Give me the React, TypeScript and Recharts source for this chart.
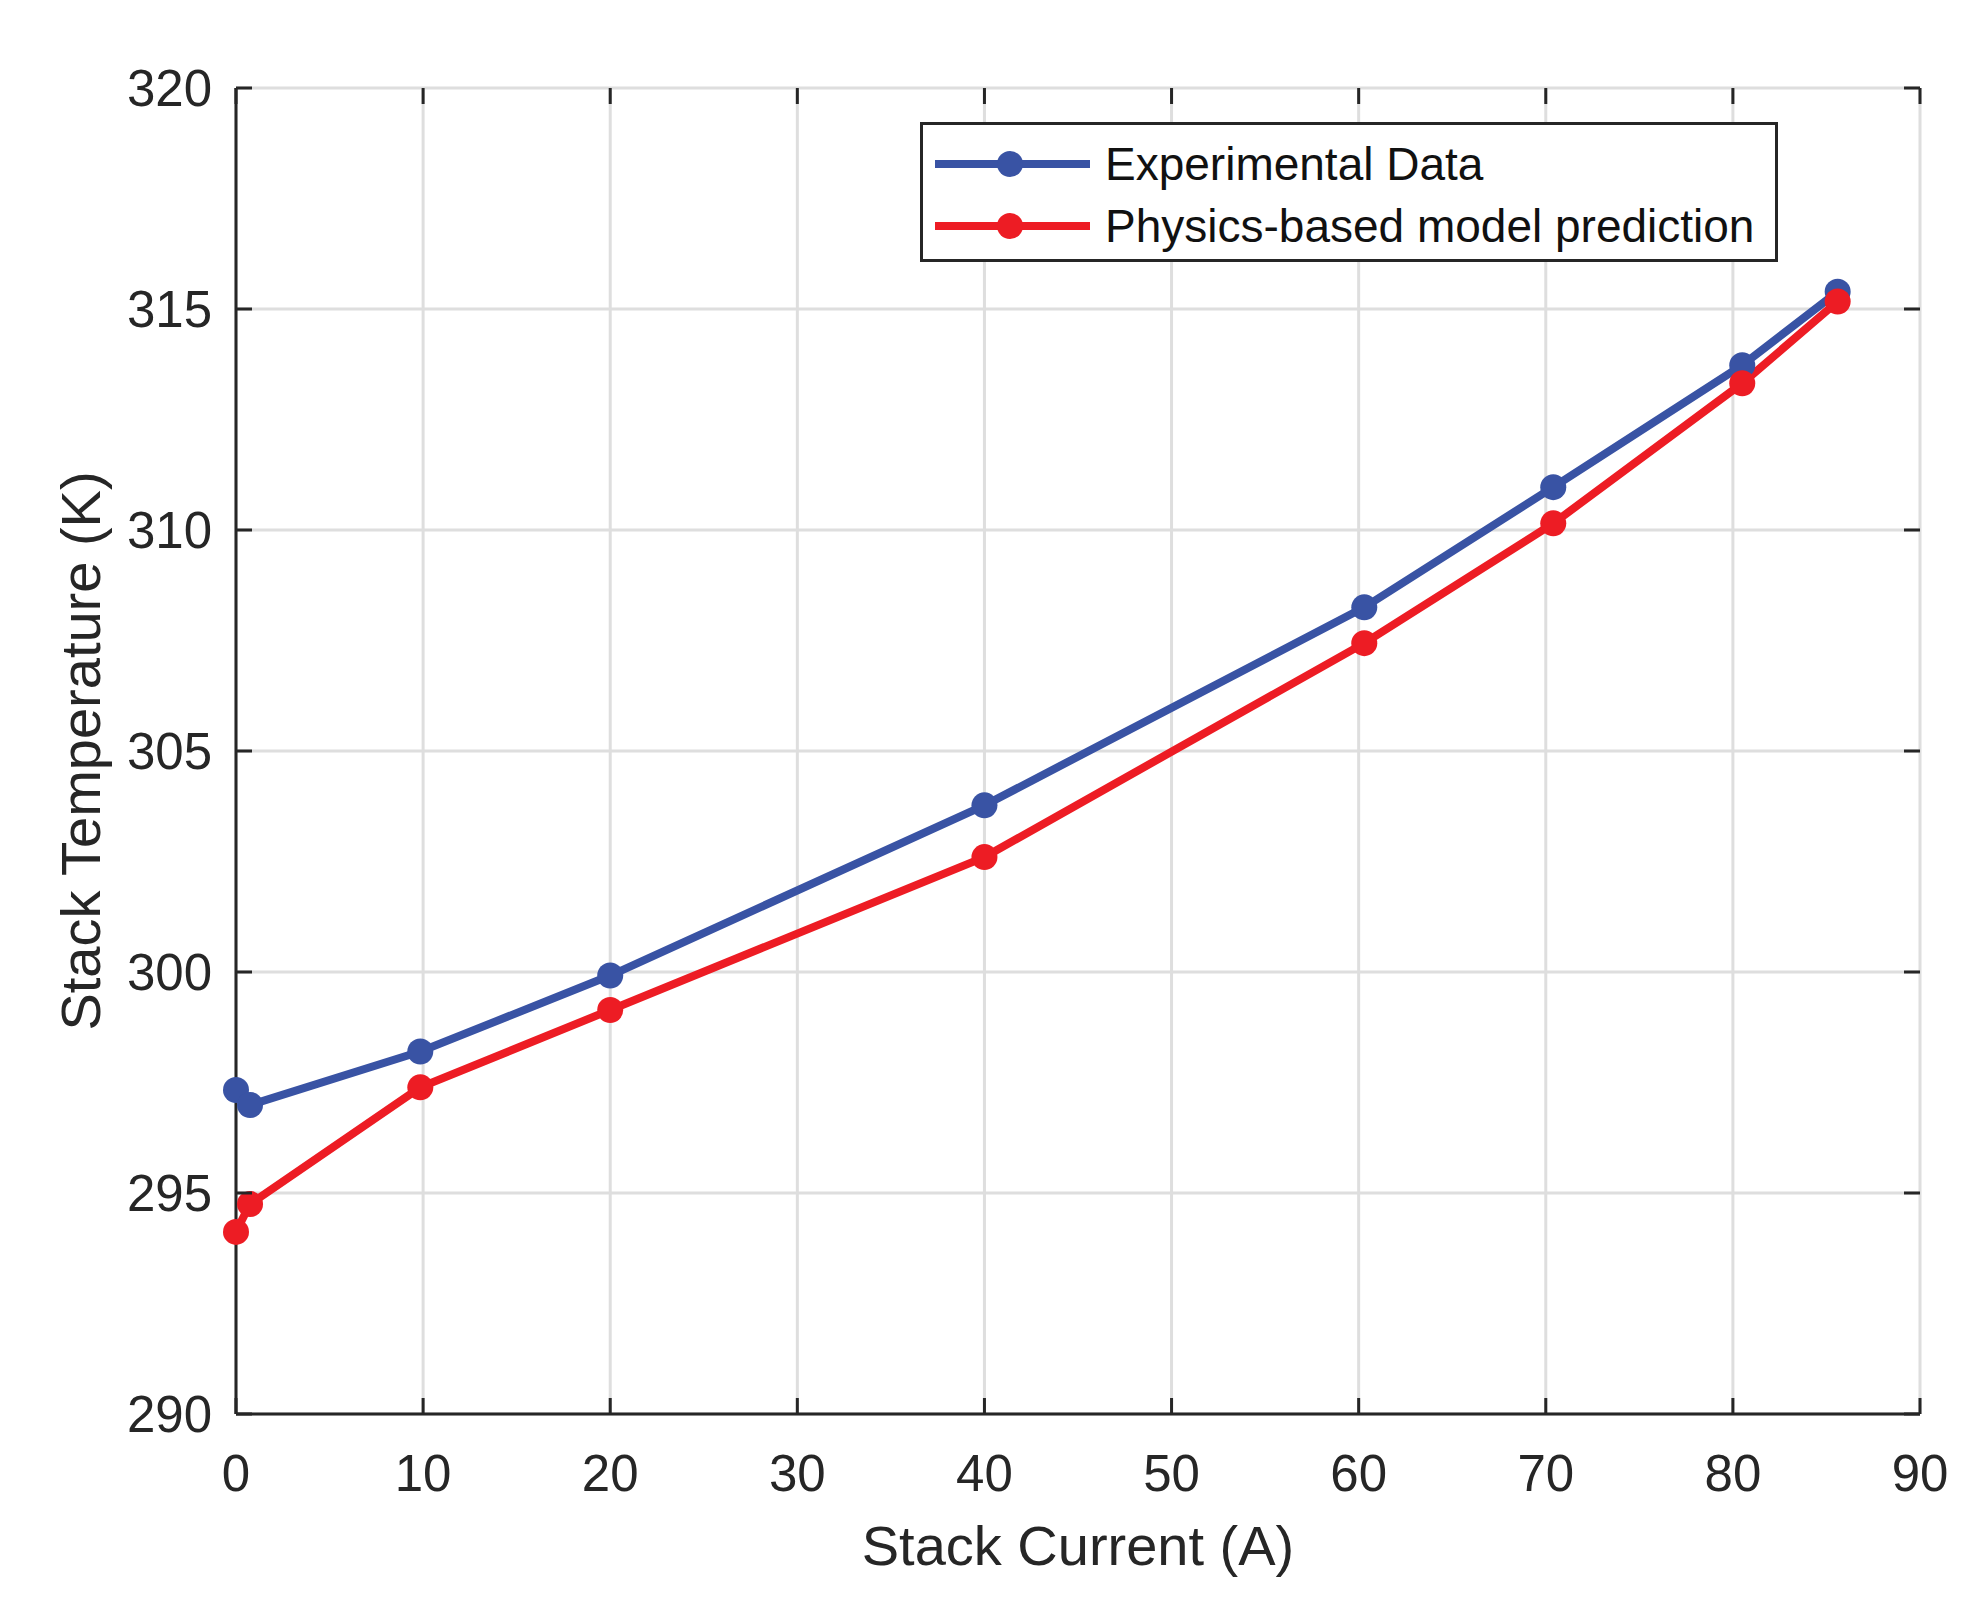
import React from "react";
import {
  LineChart,
  Line,
  XAxis,
  YAxis,
  CartesianGrid,
  Legend,
  Label,
  Text,
} from "recharts";

// Stack current (A) at each measurement
const currents = [0, 0.75, 9.85, 20, 40, 60.3, 70.4, 80.5, 85.6];
// Stack temperature (K)
const experimental = [297.33, 296.99, 298.2, 299.92, 303.77, 308.25, 310.97, 313.73, 315.39];
const modelPrediction = [294.12, 294.75, 297.39, 299.14, 302.6, 307.44, 310.15, 313.32, 315.17];

const xTicks = [0, 10, 20, 30, 40, 50, 60, 70, 80, 90];
const yTicks = [290, 295, 300, 305, 310, 315, 320];

const seriesNames = ["Experimental Data", "Physics-based model prediction"];
const BLUE = "#3953a4";
const RED = "#ed1c24";
const INK = "#262626";
const FONT = "'Liberation Sans', Arial, Helvetica, sans-serif";

// chart layout
const CHART_W = 1987;
const CHART_H = 1615;
const MARGIN = { top: 88, right: 67, left: 0, bottom: 0 };
const Y_AXIS_W = 236;
const X_AXIS_H = 201;
const PLOT_LEFT = MARGIN.left + Y_AXIS_W;
const PLOT_RIGHT = CHART_W - MARGIN.right;
const PLOT_TOP = MARGIN.top;
const PLOT_BOTTOM = CHART_H - MARGIN.bottom - X_AXIS_H;

const TICK_LEN = 16; // MATLAB-style ticks point into the box, on all four sides
const X_LABEL_GAP = 41;
const Y_LABEL_GAP = 24;

const data = currents.map((x, i) => ({
  x,
  exp: experimental[i],
  model: modelPrediction[i],
}));

function BottomTick(props: any) {
  const { x, y, payload } = props;
  const tickStroke = { stroke: INK, strokeWidth: 3 };
  return (
    <g>
      <line x1={x} x2={x} y1={PLOT_BOTTOM} y2={PLOT_BOTTOM - TICK_LEN} {...tickStroke} />
      <line x1={x} x2={x} y1={PLOT_TOP} y2={PLOT_TOP + TICK_LEN} {...tickStroke} />
      <Text x={x} y={y} textAnchor="middle" verticalAnchor="start" fontSize={51} fill={INK} fontFamily={FONT}>
        {String(payload.value)}
      </Text>
    </g>
  );
}

function LeftTick(props: any) {
  const { x, y, payload } = props;
  const tickStroke = { stroke: INK, strokeWidth: 3 };
  return (
    <g>
      <line x1={PLOT_LEFT} x2={PLOT_LEFT + TICK_LEN} y1={y} y2={y} {...tickStroke} />
      <line x1={PLOT_RIGHT} x2={PLOT_RIGHT - TICK_LEN} y1={y} y2={y} {...tickStroke} />
      <Text x={x} y={y} textAnchor="end" verticalAnchor="middle" fontSize={51} fill={INK} fontFamily={FONT}>
        {String(payload.value)}
      </Text>
    </g>
  );
}

function LegendBox() {
  const rows = [
    { name: seriesNames[0], color: BLUE },
    { name: seriesNames[1], color: RED },
  ];
  return (
    <div
      style={{
        border: `3px solid ${INK}`,
        background: "#fff",
        boxSizing: "border-box",
        width: 858,
        height: 140,
        paddingTop: 8,
        fontFamily: FONT,
      }}
    >
      {rows.map((r) => (
        <div key={r.name} style={{ display: "flex", alignItems: "center", height: 62 }}>
          <svg width={180} height={40} style={{ flex: "none" }}>
            <line x1={12} x2={167} y1={20} y2={20} stroke={r.color} strokeWidth={8} />
            <circle cx={87} cy={20} r={13} fill={r.color} />
          </svg>
          <span style={{ fontSize: 46, color: "#111", marginLeft: 2, whiteSpace: "nowrap" }}>
            {r.name}
          </span>
        </div>
      ))}
    </div>
  );
}

export default function App() {
  const axisLine = { stroke: INK, strokeWidth: 3 };

  return (
    <div style={{ position: "absolute", left: 0, top: 0, background: "#fff" }}>
      <LineChart width={CHART_W} height={CHART_H} data={data} margin={MARGIN}>
        <CartesianGrid stroke="#dedede" strokeWidth={3} />
        <XAxis
          dataKey="x"
          type="number"
          domain={[0, 90]}
          ticks={xTicks}
          height={X_AXIS_H}
          tick={<BottomTick />}
          tickSize={0}
          tickMargin={X_LABEL_GAP}
          axisLine={axisLine}
          tickLine={false}
        >
          <Label
            value="Stack Current (A)"
            position="insideBottom"
            offset={50}
            style={{ fontSize: 56, fill: INK, fontFamily: FONT }}
          />
        </XAxis>
        <XAxis
          xAxisId="top"
          orientation="top"
          dataKey="x"
          type="number"
          domain={[0, 90]}
          ticks={xTicks}
          height={0}
          tick={false}
          axisLine={axisLine}
          tickLine={false}
        />
        <YAxis
          type="number"
          domain={[290, 320]}
          ticks={yTicks}
          width={Y_AXIS_W}
          tick={<LeftTick />}
          tickSize={0}
          tickMargin={Y_LABEL_GAP}
          axisLine={axisLine}
          tickLine={false}
        >
          <Label
            value="Stack Temperature (K)"
            position="center"
            angle={-90}
            dx={-38}
            style={{ fontSize: 56, fill: INK, fontFamily: FONT, textAnchor: "middle" }}
          />
        </YAxis>
        <YAxis
          yAxisId="right"
          orientation="right"
          type="number"
          domain={[290, 320]}
          ticks={yTicks}
          width={0}
          tick={false}
          axisLine={axisLine}
          tickLine={false}
        />
        <Legend
          layout="vertical"
          align="center"
          verticalAlign="middle"
          content={() => <LegendBox />}
          wrapperStyle={{ left: 920, top: 122, width: 858, height: 140 }}
        />
        <Line
          dataKey="exp"
          name={seriesNames[0]}
          stroke={BLUE}
          strokeWidth={8}
          dot={{ r: 13, fill: BLUE, stroke: BLUE, strokeWidth: 0 }}
          activeDot={false}
          isAnimationActive={false}
        />
        <Line
          dataKey="model"
          name={seriesNames[1]}
          stroke={RED}
          strokeWidth={8}
          dot={{ r: 13, fill: RED, stroke: RED, strokeWidth: 0 }}
          activeDot={false}
          isAnimationActive={false}
        />
      </LineChart>
    </div>
  );
}
